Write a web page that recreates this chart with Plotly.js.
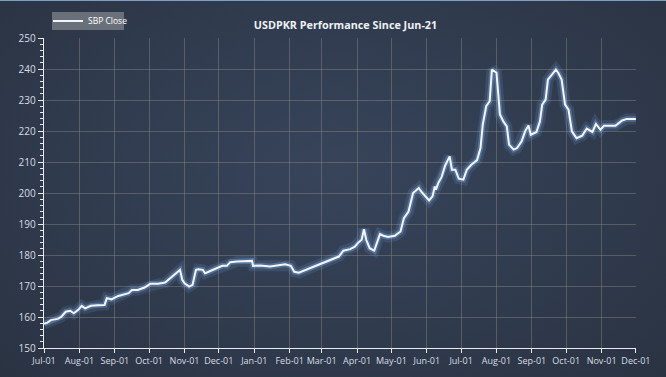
<!DOCTYPE html>
<html>
<head>
<meta charset="utf-8">
<script src="https://cdn.plot.ly/plotly-3.0.1.min.js"></script>
<style>
html,body{margin:0;padding:0;}
body{width:666px;height:377px;overflow:hidden;
background:radial-gradient(ellipse at 50% 45%, #37445a 0%, #303b4e 55%, #2a3342 100%);
box-shadow: inset 0 1px 0 #7f9fc0;}
#chart{width:666px;height:377px;}
</style>
</head>
<body>
<div id="chart"></div>
<script>
const seriesName = 'SBP Close';
const chartTitle = 'USDPKR Performance Since Jun-21';
const dates = [
'2021-07-01','2021-07-04','2021-07-07','2021-07-13','2021-07-16','2021-07-20','2021-07-24','2021-07-27','2021-07-31',
'2021-08-03','2021-08-06','2021-08-11','2021-08-17','2021-08-23','2021-08-25','2021-08-29',
'2021-09-04','2021-09-09','2021-09-13','2021-09-16','2021-09-21','2021-09-27',
'2021-10-02','2021-10-09','2021-10-15','2021-10-21','2021-10-27','2021-10-28','2021-10-30',
'2021-11-01','2021-11-05','2021-11-08','2021-11-11','2021-11-13','2021-11-17','2021-11-19','2021-11-22','2021-11-26',
'2021-12-01','2021-12-04','2021-12-08','2021-12-11','2021-12-17','2021-12-24','2021-12-30','2021-12-31',
'2022-01-06','2022-01-15','2022-01-21','2022-01-28',
'2022-02-02','2022-02-05','2022-02-09','2022-02-15','2022-02-19','2022-02-25',
'2022-03-03','2022-03-07','2022-03-11','2022-03-16','2022-03-20','2022-03-26','2022-03-30',
'2022-04-02','2022-04-05','2022-04-07','2022-04-09','2022-04-12','2022-04-16','2022-04-18','2022-04-21','2022-04-24','2022-04-28',
'2022-05-04','2022-05-09','2022-05-12','2022-05-16','2022-05-20','2022-05-25','2022-05-27','2022-05-30',
'2022-06-03','2022-06-06','2022-06-08','2022-06-09','2022-06-11','2022-06-14','2022-06-17','2022-06-21','2022-06-23','2022-06-26','2022-06-29',
'2022-07-03','2022-07-06','2022-07-10','2022-07-15','2022-07-18','2022-07-20','2022-07-23','2022-07-26','2022-07-28',
'2022-08-01','2022-08-04','2022-08-07','2022-08-10','2022-08-12','2022-08-16','2022-08-19','2022-08-23','2022-08-26','2022-08-29','2022-08-31',
'2022-09-05','2022-09-08','2022-09-10','2022-09-13','2022-09-15','2022-09-18','2022-09-22','2022-09-24','2022-09-27','2022-09-30',
'2022-10-03','2022-10-06','2022-10-10','2022-10-15','2022-10-19','2022-10-24','2022-10-27','2022-10-31',
'2022-11-03','2022-11-13','2022-11-19','2022-11-23','2022-12-01'
];
const closeValues = [
157.8,158.2,159.0,159.4,160.0,161.7,162.0,161.2,162.3,
163.6,162.8,163.6,163.8,163.9,166.1,165.7,
166.8,167.3,167.7,168.7,168.7,169.5,
170.7,170.7,171.1,173.0,175.0,175.2,172.0,
170.9,169.8,170.4,175.2,175.4,175.2,174.1,174.6,175.2,
175.8,176.5,176.5,177.7,177.9,178.0,178.1,176.5,
176.6,176.3,176.6,177.0,
176.5,174.6,174.3,175.2,175.8,176.8,
177.7,178.2,178.7,179.5,181.4,181.9,182.7,
184.0,184.9,188.3,184.9,182.2,181.4,183.8,186.7,186.2,185.8,
186.2,187.6,191.9,194.0,200.0,201.6,200.5,199.1,
197.6,198.9,202.1,201.1,203.2,205.2,208.8,211.8,207.5,207.5,204.6,
204.3,207.5,209.1,210.6,214.5,222.1,228.0,229.6,239.8,
238.8,225.3,223.1,221.5,215.6,214.0,214.5,216.7,219.9,221.8,218.8,
219.7,223.1,228.5,230.1,236.6,238.0,239.8,238.8,236.6,228.5,
226.9,219.9,217.7,218.5,220.8,219.7,222.3,220.4,
221.7,221.7,223.4,223.9,223.9
];
const xRange = ['2021-07-01','2022-12-01 02:00'];
const yRange = [150,250];

const glowOuter = {x: dates, y: closeValues, type:'scatter', mode:'lines', showlegend:false, hoverinfo:'skip',
  line:{color:'rgba(110,160,225,0.16)', width:11}};
const glowInner = {x: dates, y: closeValues, type:'scatter', mode:'lines', showlegend:false, hoverinfo:'skip',
  line:{color:'rgba(140,185,240,0.32)', width:5.5}};
const main = {x: dates, y: closeValues, type:'scatter', mode:'lines', name: seriesName,
  line:{color:'#f2f5fb', width:2}};

const layout = {
  width:666, height:377,
  paper_bgcolor:'rgba(0,0,0,0)', plot_bgcolor:'rgba(0,0,0,0)',
  margin:{l:44, r:30, t:38, b:29, autoexpand:false},
  font:{family:'"Open Sans", "Noto Sans", sans-serif', color:'#d8dde5', size:10},
  title:{text:'<b>'+chartTitle+'</b>', x:345.5/666, xanchor:'center', y:1-25/377, yanchor:'middle',
    font:{size:10.8, color:'#eef1f5', family:'"Open Sans", "Noto Sans", sans-serif'}},
  showlegend:true,
  legend:{xref:'paper', yref:'paper', x:(48-44)/592, y:(348-21)/310, yanchor:'middle', xanchor:'left',
    bgcolor:'rgba(0,0,0,0)', font:{size:8.5, color:'#ffffff'}, borderwidth:0, itemwidth:30, tracegroupgap:0},
  shapes:[{type:'rect', xref:'paper', yref:'paper', x0:(52-44)/592, x1:(124-44)/592,
    y0:(348-30)/310, y1:(348-12)/310, fillcolor:'#6a7079', line:{width:0}, layer:'below'}],
  xaxis:{type:'date', range:xRange, tick0:'2021-07-01', dtick:'M1', tickformat:'%b-%d', tickangle:0,
    automargin:false,
    showgrid:true, gridcolor:'rgba(140,135,130,0.45)', gridwidth:1,
    showline:true, linecolor:'#e8ecf2', linewidth:1.3,
    ticks:'outside', ticklen:4, tickcolor:'#e8ecf2', tickwidth:1,
    tickfont:{size:9, color:'#d8dde5'}, zeroline:false, fixedrange:true},
  yaxis:{range:yRange, dtick:10, tick0:150, automargin:false,
    showgrid:true, gridcolor:'rgba(140,135,130,0.45)', gridwidth:1,
    showline:true, linecolor:'#e8ecf2', linewidth:1.3,
    ticks:'outside', ticklen:5, tickcolor:'#e8ecf2', tickwidth:1,
    minor:{dtick:2, ticks:'outside', ticklen:3, tickcolor:'#e8ecf2', showgrid:false},
    tickfont:{size:10, color:'#d8dde5'}, zeroline:false, fixedrange:true}
};
Plotly.newPlot('chart', [glowOuter, glowInner, main], layout, {displayModeBar:false, staticPlot:true});
</script>
</body>
</html>
